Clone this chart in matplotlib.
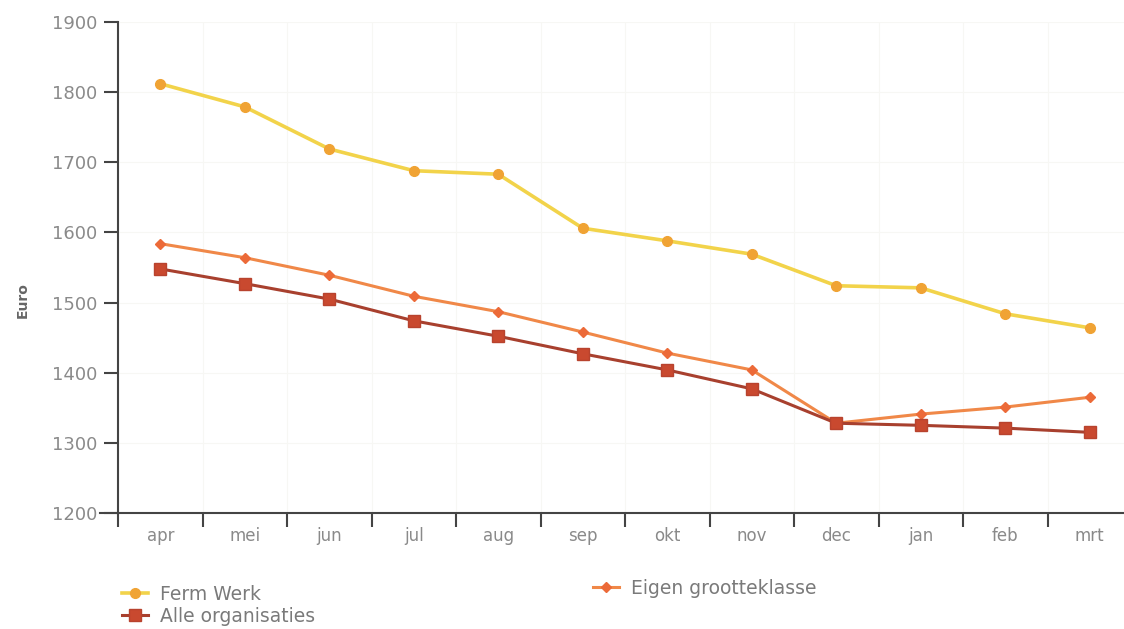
import numpy as np
import matplotlib
matplotlib.use("Agg")
import matplotlib.pyplot as plt

plt.rcParams['font.family'] = ['DejaVu Sans']

months = ['apr', 'mei', 'jun', 'jul', 'aug', 'sep', 'okt', 'nov', 'dec', 'jan', 'feb', 'mrt']
ferm_werk = [1812, 1779, 1719, 1688, 1683, 1606, 1588, 1569, 1524, 1521, 1484, 1464]
eigen_grootteklasse = [1584, 1564, 1539, 1509, 1487, 1458, 1428, 1404, 1328, 1341, 1351, 1365]
alle_organisaties = [1548, 1527, 1505, 1474, 1452, 1427, 1404, 1377, 1328, 1325, 1321, 1315]
yticks = [1200, 1300, 1400, 1500, 1600, 1700, 1800, 1900]

fig = plt.figure(figsize=(11.24, 6.29), dpi=100)
ax = fig.add_axes([118 / 1124, 1 - 513 / 629, 1014 / 1124, 491 / 629])

x = np.arange(len(months))
l1, = ax.plot(x, ferm_werk, color='#f2d34a', lw=2.6, marker='o', ms=7,
              mfc='#f0a334', mec='#f0a334', label='Ferm Werk')
l3, = ax.plot(x, eigen_grootteklasse, color='#f08848', lw=2.2, marker='D', ms=5,
              mfc='#ec6a38', mec='#ec6a38', label='Eigen grootteklasse')
l2, = ax.plot(x, alle_organisaties, color='#a8402e', lw=2.2, marker='s', ms=8,
              mfc='#c9492f', mec='#b8432e', label='Alle organisaties')

ax.set_xlim(-0.5, len(months) - 0.5)
ax.set_ylim(1200, 1900)
ax.set_yticks(yticks)
ax.set_xticks(np.arange(len(months) + 1) - 0.5)
ax.set_xticklabels([])
ax.set_xticks(x, minor=True)
ax.set_xticklabels(months, minor=True)
ax.tick_params(axis='x', which='major', length=10, width=1.5, color='#444444', direction='out')
ax.tick_params(axis='x', which='minor', length=0, pad=10, labelsize=12, labelcolor='#8a8a8a')
ax.tick_params(axis='y', length=10, width=1.5, color='#444444', labelsize=13,
               labelcolor='#8a8a8a', pad=5)

for s in ['top', 'right']:
    ax.spines[s].set_visible(False)
for s in ['left', 'bottom']:
    ax.spines[s].set_color('#444444')
    ax.spines[s].set_linewidth(1.5)
ax.plot([-0.018, 0], [0, 0], transform=ax.transAxes, color='#444444', lw=1.5, clip_on=False)

ax.grid(True, color='#f7f7f4', lw=0.8)
ax.set_axisbelow(True)

ax.set_ylabel('Euro', fontsize=10, fontweight='bold', color='#666666')
ax.yaxis.set_label_coords(-0.087, 0.434)

leg_kw = dict(frameon=False, fontsize=13.5, labelcolor='#7a7a7a', handlelength=1.4,
              handletextpad=0.65, labelspacing=0.15, borderaxespad=0, borderpad=0)
leg1 = fig.legend(handles=[l1, l2], loc='center left', bbox_to_anchor=(0.1085, 0.038), **leg_kw)
leg2 = fig.legend(handles=[l3], loc='center left', bbox_to_anchor=(0.5276, 0.065), **leg_kw)

fig.savefig('out.png', dpi=100)
